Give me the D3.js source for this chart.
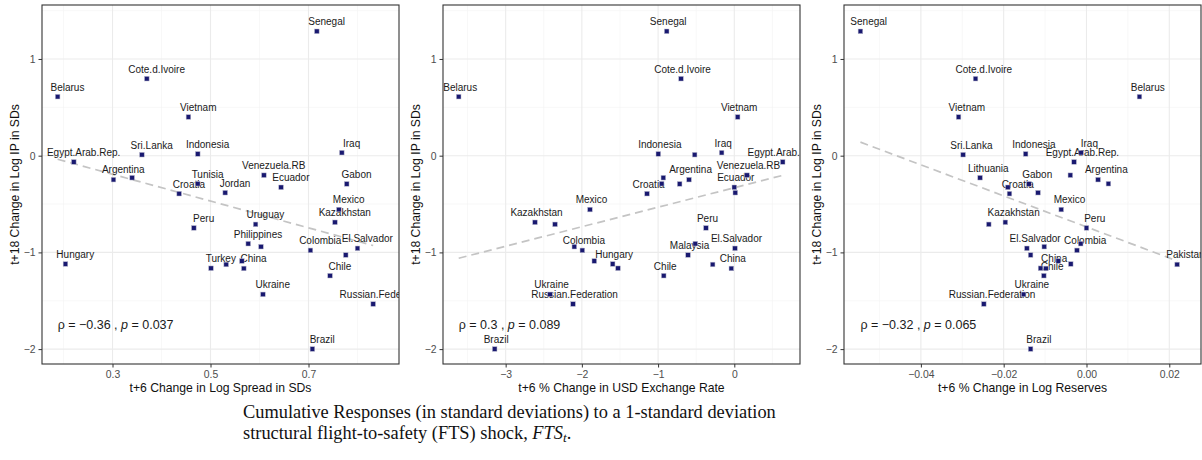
<!DOCTYPE html>
<html>
<head>
<meta charset="utf-8">
<script src="https://d3js.org/d3.v7.min.js"></script>
<style>
  body { margin: 0; background: #fff; }
  svg text { font-family: "Liberation Sans", Arial, sans-serif; }
</style>
</head>
<body>
<svg id="chart" width="1202" height="460"></svg>
<script>
// countries (same order in every array)
var countries = ["Senegal","Cote.d.Ivoire","Belarus","Vietnam","Sri.Lanka","Indonesia","Iraq","Egypt.Arab.Rep.",
  "Argentina","Lithuania","Venezuela.RB","Tunisia","Gabon","Ecuador","Croatia","Jordan","Mexico","Kazakhstan",
  "Uruguay","Peru","Philippines","Unlabeled.A","Colombia","El.Salvador","Malaysia","Unlabeled.B","Hungary",
  "Pakistan","Turkey","China","Chile","Ukraine","Russian.Federation","Brazil"];

// t+18 change in log IP in SDs
var ipChange = [1.286,0.796,0.610,0.400,0.010,0.018,0.031,-0.065,
  -0.248,-0.228,-0.202,-0.290,-0.292,-0.327,-0.393,-0.383,-0.557,-0.689,
  -0.710,-0.747,-0.910,-0.941,-0.979,-0.958,-1.027,-1.089,-1.120,
  -1.125,-1.164,-1.166,-1.241,-1.434,-1.534,-1.999];

// t+6 change in log spread in SDs
var spreadChange = [0.717,0.370,0.188,0.455,0.360,0.474,0.768,0.221,
  0.302,0.340,0.609,0.474,0.778,0.644,0.436,0.530,0.762,0.754,
  0.592,0.466,0.577,0.603,0.704,0.800,0.776,0.564,0.204,
  0.532,0.501,0.568,0.744,0.607,0.832,0.708];

// t+6 % change in USD exchange rate
var fxChange = [-0.887,-0.699,-3.616,0.044,-0.520,-0.997,-0.166,0.635,
  -0.594,-0.931,0.167,-0.953,-0.717,0.000,-1.145,0.013,-1.894,-2.615,
  -2.352,-0.372,-0.512,-2.099,-1.994,0.009,-0.607,-1.837,-1.596,
  -0.284,-1.526,-0.039,-0.926,-2.418,-2.116,-3.144];

// t+6 % change in log reserves
var reserveChange = [-0.0546,-0.0268,0.0128,-0.0309,-0.0298,-0.0147,-0.0013,-0.0030,
  0.0028,-0.0257,-0.0039,0.0053,-0.0139,-0.0190,-0.0186,-0.0117,-0.0061,-0.0196,
  -0.0236,0.0000,-0.0014,-0.0102,-0.0023,-0.0144,-0.0135,-0.0068,-0.0038,
  0.0219,-0.0111,-0.0098,-0.0103,-0.0152,-0.0248,-0.0135];

// labels dropped by overlap checking in each panel
var hidden1 = ["Lithuania","Malaysia","Pakistan","Unlabeled.A","Unlabeled.B"];
var hidden2 = ["Sri.Lanka","Jordan","Tunisia","Gabon","Lithuania","Uruguay","Unlabeled.A","Philippines","Unlabeled.B","Turkey","Pakistan"];
var hidden3 = ["Tunisia","Venezuela.RB","Ecuador","Jordan","Uruguay","Unlabeled.A","Philippines","Malaysia","Unlabeled.B","Hungary","Turkey"];

var xTitles = ["t+6 Change in Log Spread in SDs","t+6 % Change in USD Exchange Rate","t+6 % Change in Log Reserves"];
var yTitle = "t+18 Change in Log IP in SDs";
var rhos = ["\u22120.36","0.3","\u22120.32"];
var pvals = ["0.037","0.089","0.065"];

var xTicks1 = [0.3,0.5,0.7], xMinor1 = [0.2,0.4,0.6,0.8];
var xTicks2 = [-3,-2,-1,0], xMinor2 = [-3.5,-2.5,-1.5,-0.5,0.5];
var xTicks3 = [-0.04,-0.02,0,0.02], xMinor3 = [-0.05,-0.03,-0.01,0.01];
var yTicks = [-2,-1,0,1], yMinor = [-1.5,-0.5,0.5,1.5];

var caption1 = "Cumulative Responses (in standard deviations) to a 1-standard deviation";
var caption2 = "structural flight-to-safety (FTS) shock, ";

var panels = [
  {xs: spreadChange, domain: [0.1561, 0.8847], ticks: xTicks1, minor: xMinor1, fmt: d3.format(".1f"), nudge: 0.02, hidden: hidden1},
  {xs: fxChange, domain: [-3.822, 0.862], ticks: xTicks2, minor: xMinor2, fmt: d3.format("d"), nudge: 0.02, hidden: hidden2},
  {xs: reserveChange, domain: [-0.05857, 0.02766], ticks: xTicks3, minor: xMinor3, fmt: d3.format(".2f"), nudge: 0.002, hidden: hidden3}
];

var svg = d3.select("#chart");
var offsets = [0, 401, 802];
var plotLeft = 42, plotW = 357, plotTop = 5, plotBottom = 364;
var minus = function(s) { return String(s).replace("-", "\u2212"); };

var y = d3.scaleLinear().domain([-2.154, 1.558]).range([plotBottom, plotTop]);

panels.forEach(function(p, i) {
  var g = svg.append("g").attr("transform", "translate(" + offsets[i] + ",0)");
  var x = d3.scaleLinear().domain(p.domain).range([plotLeft, plotLeft + plotW]);

  var clipId = "clip" + i;
  g.append("clipPath").attr("id", clipId)
    .append("rect").attr("x", plotLeft).attr("y", plotTop).attr("width", plotW).attr("height", plotBottom - plotTop);

  // grid
  var grid = g.append("g");
  grid.selectAll(".xmin").data(p.minor).enter().append("line")
    .attr("x1", function(d) { return x(d); }).attr("x2", function(d) { return x(d); })
    .attr("y1", plotTop).attr("y2", plotBottom).attr("stroke", "#f4f4f4").attr("stroke-width", 0.6);
  grid.selectAll(".ymin").data(yMinor).enter().append("line")
    .attr("x1", plotLeft).attr("x2", plotLeft + plotW)
    .attr("y1", function(d) { return y(d); }).attr("y2", function(d) { return y(d); })
    .attr("stroke", "#f4f4f4").attr("stroke-width", 0.6);
  grid.selectAll(".xmaj").data(p.ticks).enter().append("line")
    .attr("x1", function(d) { return x(d); }).attr("x2", function(d) { return x(d); })
    .attr("y1", plotTop).attr("y2", plotBottom).attr("stroke", "#ebebeb").attr("stroke-width", 1.1);
  grid.selectAll(".ymaj").data(yTicks).enter().append("line")
    .attr("x1", plotLeft).attr("x2", plotLeft + plotW)
    .attr("y1", function(d) { return y(d); }).attr("y2", function(d) { return y(d); })
    .attr("stroke", "#ebebeb").attr("stroke-width", 1.1);

  var data = countries.map(function(c, k) { return {name: c, x: p.xs[k], y: ipChange[k]}; });

  var inner = g.append("g").attr("clip-path", "url(#" + clipId + ")");

  // OLS fit line over data range
  var mx = d3.mean(data, function(d) { return d.x; }), my = d3.mean(data, function(d) { return d.y; });
  var sxy = d3.sum(data, function(d) { return (d.x - mx) * (d.y - my); });
  var sxx = d3.sum(data, function(d) { return (d.x - mx) * (d.x - mx); });
  var b = sxy / sxx, a = my - b * mx;
  var ext = d3.extent(data, function(d) { return d.x; });
  inner.append("line")
    .attr("x1", x(ext[0])).attr("y1", y(a + b * ext[0]))
    .attr("x2", x(ext[1])).attr("y2", y(a + b * ext[1]))
    .attr("stroke", "#c4c4c4").attr("stroke-width", 1.7).attr("stroke-dasharray", "8,5");

  // country labels
  inner.selectAll(".lab").data(data.filter(function(d) { return p.hidden.indexOf(d.name) < 0; }))
    .enter().append("text")
    .attr("x", function(d) { return x(d.x + p.nudge); })
    .attr("y", function(d) { return y(d.y + 0.1); })
    .attr("dy", "0.35em")
    .attr("text-anchor", "middle")
    .attr("font-size", 10)
    .attr("fill", "#1a1a1a")
    .text(function(d) { return d.name; });

  // points
  inner.selectAll(".pt").data(data).enter().append("rect")
    .attr("x", function(d) { return x(d.x) - 2.3; })
    .attr("y", function(d) { return y(d.y) - 2.3; })
    .attr("width", 4.6).attr("height", 4.6)
    .attr("fill", "#191970").attr("stroke", "#b8b8cc").attr("stroke-width", 0.5);

  // correlation note
  var note = inner.append("text")
    .attr("x", x(ext[0])).attr("y", y(-1.75)).attr("dy", "0.35em")
    .attr("font-size", 12.5).attr("fill", "#1a1a1a");
  note.append("tspan").text("\u03c1 = " + rhos[i] + " , ");
  note.append("tspan").attr("font-style", "italic").text("p");
  note.append("tspan").text(" = " + pvals[i]);

  // panel border
  g.append("rect").attr("x", plotLeft).attr("y", plotTop).attr("width", plotW).attr("height", plotBottom - plotTop)
    .attr("fill", "none").attr("stroke", "#333").attr("stroke-width", 1.1);

  // axes
  var xAxis = d3.axisBottom(x).tickValues(p.ticks).tickSize(3.5).tickPadding(3)
    .tickFormat(function(d) { return minus(p.fmt(d)); });
  var ax = g.append("g").attr("transform", "translate(0," + plotBottom + ")").call(xAxis);
  var yAxis = d3.axisLeft(y).tickValues(yTicks).tickSize(3.5).tickPadding(3)
    .tickFormat(function(d) { return minus(d); });
  var ay = g.append("g").attr("transform", "translate(" + plotLeft + ",0)").call(yAxis);
  [ax, ay].forEach(function(a) {
    a.select(".domain").remove();
    a.selectAll("line").attr("stroke", "#333");
    a.selectAll("text").attr("fill", "#4d4d4d").attr("font-size", 10.4)
      .style("font-family", "Liberation Sans, Arial, sans-serif");
  });

  g.append("text").attr("x", plotLeft + plotW / 2).attr("y", 388).attr("dy", "0.35em")
    .attr("text-anchor", "middle").attr("font-size", 12.2).attr("fill", "#111")
    .text(xTitles[i]);
  g.append("text").attr("transform", "translate(15," + (plotTop + plotBottom) / 2 + ") rotate(-90)")
    .attr("dy", "0.35em").attr("text-anchor", "middle").attr("font-size", 12.2).attr("fill", "#111")
    .text(yTitle);
});

// caption under the figure
var cap = svg.append("g").attr("fill", "#111");
var c1 = cap.append("text").attr("x", 243).attr("y", 418).attr("font-size", 16).text(caption1)
  .style("font-family", "'Liberation Serif', serif");
var w = c1.node().getComputedTextLength();
var fs = 16 * 533 / w;
c1.attr("font-size", fs);
var c2 = cap.append("text").attr("x", 243).attr("y", 439).attr("font-size", fs)
  .style("font-family", "'Liberation Serif', serif");
c2.append("tspan").text(caption2);
c2.append("tspan").attr("font-style", "italic").text("FTS");
c2.append("tspan").attr("font-style", "italic").attr("font-size", fs * 0.72).attr("dy", 3).text("t");
c2.append("tspan").attr("dy", -3).text(".");
</script>
</body>
</html>
